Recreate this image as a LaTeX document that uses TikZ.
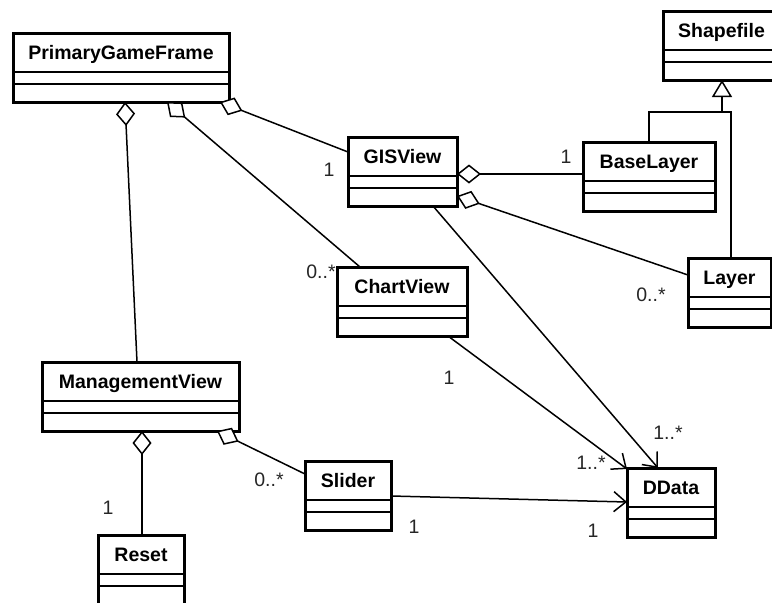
\documentclass[tikz,border=0pt]{standalone}
\usepackage{fontspec}
\setmainfont{Liberation Sans}
\usetikzlibrary{arrows.meta,calc}

\tikzset{
  classbox/.style={draw, line width=3pt, fill=white, anchor=north west,
    inner xsep=0pt, inner ysep=0pt, outer sep=0pt,
    minimum height=69pt, text height=26.5pt, text depth=42.5pt,
    font=\fontsize{19.5}{21}\selectfont\bfseries},
  compline/.style={line width=1.5pt},
  link/.style={line width=1.5pt},
  agg/.style={link, {Diamond[open, length=24pt, width=19pt, fill=white]}-},
  nav/.style={link, -{Straight Barb[length=12pt, width=20pt]}},
  gen/.style={link, -{Triangle[open, length=17pt, width=20pt, fill=white]}},
  mult/.style={inner sep=0pt, text=black!85, font=\fontsize{19.5}{21}\selectfont}
}

% class box with a name compartment and two empty compartments
\newcommand{\umlclass}[5]{%
  \node[classbox, minimum width=#4] (#1) at (#2,#3) {#5};
  \draw[compline] ($(#1.north west)+(0,39)$) -- ($(#1.north east)+(0,39)$);
  \draw[compline] ($(#1.north west)+(0,51)$) -- ($(#1.north east)+(0,51)$);
}

\begin{document}
\begin{tikzpicture}[x=1pt, y=-1pt]
  \fill[white] (0,0) rectangle (772,603);
  \useasboundingbox (0,0) rectangle (772,603);

  % classes
  \umlclass{pgf}{13}{33}{216}{PrimaryGameFrame}
  \umlclass{sf}{663}{11}{117}{Shapefile}
  \umlclass{gis}{348}{137}{109}{GISView}
  \umlclass{bl}{583}{142}{132}{BaseLayer}
  \umlclass{cv}{337}{267}{130}{ChartView}
  \umlclass{layer}{688}{258}{83}{Layer}
  \umlclass{mv}{42}{362}{197}{ManagementView}
  \umlclass{slider}{305}{461}{86}{Slider}
  \umlclass{dd}{627}{468}{88}{DData}
  \umlclass{reset}{98}{535}{86}{Reset}

  % aggregations
  \draw[agg] ($(pgf.south west)+(112,0)$) -- ($(mv.north west)+(95,0)$);
  \draw[agg] ($(pgf.south west)+(154,0)$) -- ($(cv.north west)+(23,0)$);
  \draw[agg] ($(pgf.south west)+(207,0)$) -- ($(gis.north west)+(0,15)$);
  \draw[agg] ($(gis.north east)+(0,37)$) -- ($(bl.north west)+(0,32)$);
  \draw[agg] ($(gis.north east)+(0,59)$) -- ($(layer.north west)+(0,17)$);
  \draw[agg] ($(mv.south west)+(100,0)$) -- ($(reset.north west)+(44,0)$);
  \draw[agg] ($(mv.south west)+(175,0)$) -- ($(slider.north west)+(0,13)$);

  % navigable associations
  \draw[nav] ($(gis.south west)+(85,0)$) -- ($(dd.north west)+(31,0)$);
  \draw[nav] ($(cv.south west)+(111,0)$) -- ($(dd.north west)+(0,1)$);
  \draw[nav] ($(slider.north east)+(0,35)$) -- ($(dd.north west)+(0,34)$);

  % generalization
  \coordinate (genjoin) at ($(sf.south west)+(59,32)$);
  \draw[link] ($(bl.north west)+(66,0)$) |- (genjoin);
  \draw[link] ($(layer.north west)+(43,0)$) |- (genjoin);
  \draw[gen] (genjoin) -- ($(sf.south west)+(59,0)$);

  % multiplicities
  \node[mult] (m1) at (329,170) {1};
  \node[mult] (m2) at (566,157) {1};
  \node[mult] (m3) at (321,272) {0..*};
  \node[mult] (m4) at (651,295) {0..*};
  \node[mult] (m5) at (449,378) {1};
  \node[mult] (m6) at (591,463) {1..*};
  \node[mult] (m7) at (668,433) {1..*};
  \node[mult] (m8) at (414,527) {1};
  \node[mult] (m9) at (593,531) {1};
  \node[mult] (m10) at (108,508) {1};
  \node[mult] (m11) at (269,480) {0..*};
\end{tikzpicture}
\end{document}
